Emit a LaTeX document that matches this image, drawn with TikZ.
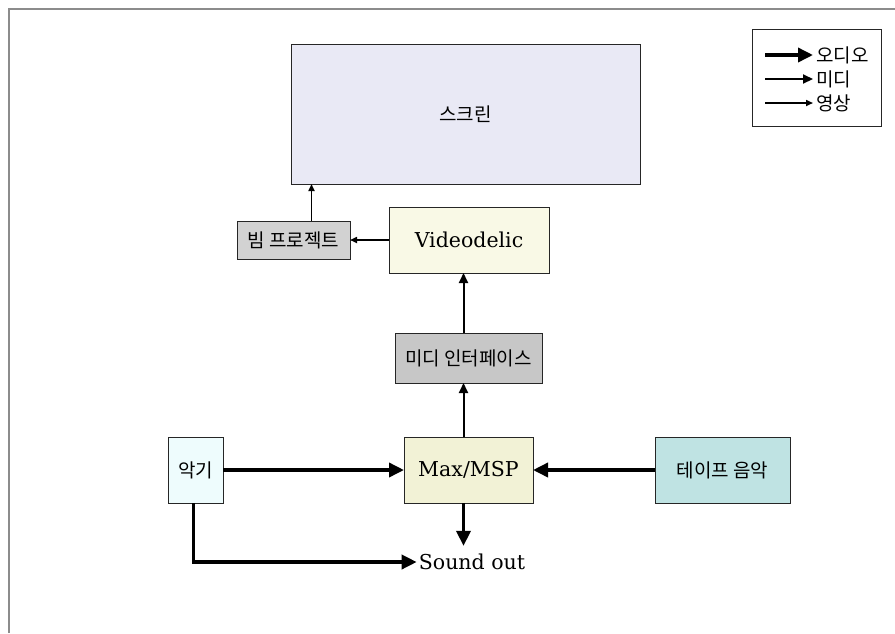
\documentclass[tikz,border=0pt]{standalone}
\usepackage{fontspec}
\setmainfont{DejaVu Serif}
\newfontfamily\kr{Noto Sans CJK KR}
\usetikzlibrary{positioning, arrows.meta}

\definecolor{screenfill}{HTML}{E9E9F5}
\definecolor{videofill}{HTML}{F9F9E6}
\definecolor{maxfill}{HTML}{F2F2D6}
\definecolor{instfill}{HTML}{EEFCFD}
\definecolor{tapefill}{HTML}{BFE3E3}
\definecolor{grayfill}{HTML}{D2D2D2}

\tikzset{
  box/.style={draw=black!85, line width=1pt, inner sep=0pt, outer sep=0pt, align=center},
  krlabel/.style={font=\kr\fontsize{19}{21}\selectfont},
  enlabel/.style={font=\fontsize{20.5}{24}\selectfont},
  audio/.style={line width=3.5pt, -{Triangle[length=15pt,width=14pt]}},
  midi/.style={line width=2pt, -{Triangle[length=10pt,width=9pt]}},
  vid/.style={line width=1.6pt, -{Triangle[length=7pt,width=6pt]}},
}

\begin{document}
\begin{tikzpicture}[x=1pt, y=-1pt]
    \useasboundingbox (0,0) rectangle (895,633);
    % --- Frame ---
    \draw[black!45, line width=2pt] (9,633) -- (9,9) -- (895,9);

    % --- Boxes ---
    \node[box, krlabel, fill=screenfill, minimum width=349pt, minimum height=140pt] (screen) at (465.5,114) {스크린};
    \node[box, krlabel, fill=grayfill, minimum width=113pt, minimum height=38pt] (beam) at (293.5,240) {빔 프로젝트};
    \node[box, enlabel, fill=videofill, minimum width=160pt, minimum height=66pt] (video) at (469,240) {Videodelic};
    \node[box, krlabel, fill=grayfill!95!black, minimum width=147pt, minimum height=50pt] (midiif) at (468.5,358) {미디 인터페이스};
    \node[box, enlabel, fill=maxfill, minimum width=129pt, minimum height=66pt] (max) at (468.5,470) {Max/MSP};
    \node[box, krlabel, fill=instfill, minimum width=55pt, minimum height=66pt] (inst) at (195.5,470) {악기};
    \node[box, krlabel, fill=tapefill, minimum width=135pt, minimum height=66pt] (tape) at (722.5,470) {테이프 음악};
    \node[enlabel, inner sep=2pt] (sound) at (472,562) {Sound out};

    % --- Connectors ---
    \draw[vid] (video.west) -- (beam.east);
    \draw[vid] ([xshift=18pt]beam.north) -- ([xshift=18pt]beam.north |- screen.south);
    \draw[midi] ([xshift=-5pt]max.north) -- ([xshift=-5pt]max.north |- midiif.south);
    \draw[midi] ([xshift=-5pt]midiif.north) -- ([xshift=-5pt]midiif.north |- video.south);
    \draw[audio] (inst.east) -- (max.west);
    \draw[audio] (tape.west) -- (max.east);
    \draw[audio, shorten >=6pt] ([xshift=-5pt]max.south) -- ([xshift=-5pt]max.south |- sound.north);
    \draw[audio] ([xshift=-2pt]inst.south) |- (sound.west);

    % --- Legend ---
    \node[box, minimum width=129pt, minimum height=97pt] (legend) at (816.5,77.5) {};
    \foreach \name/\txt/\sty/\yy in {lgaudio/오디오/audio/55, lgmidi/미디/midi/79, lgvid/영상/vid/103} {
        \coordinate (\name-start) at (765,\yy);
        \node[krlabel, anchor=west, inner sep=3pt] (\name) at (813,\yy) {\txt};
        \draw[\sty] (\name-start) -- (\name.west);
    }
\end{tikzpicture}
\end{document}
